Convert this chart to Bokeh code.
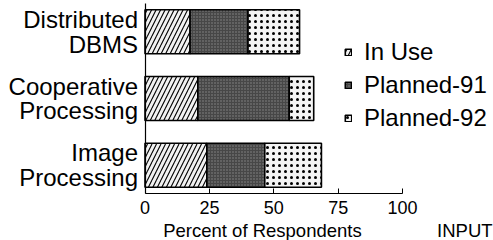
import numpy as np
from bokeh.plotting import figure
from bokeh.models import (Range1d, FixedTicker, Legend, LegendItem, Label,
                          ColumnDataSource)
from bokeh.embed import file_html
from bokeh.resources import INLINE

# ---- data ----
categories = ["Image Processing", "Cooperative Processing", "Distributed DBMS"]
category_labels = ["Image\nProcessing", "Cooperative\nProcessing", "Distributed\nDBMS"]
series_names = ["In Use", "Planned-91", "Planned-92"]
in_use = [24, 20.5, 17.5]
planned_91 = [22.5, 35.5, 22.5]
planned_92 = [22, 9.5, 20]
x_ticks = [0, 25, 50, 75, 100]
x_label = "Percent of Respondents"
footer = "INPUT"

FONT = "Liberation Sans"
Y0 = -0.424  # where the value axis sits

p = figure(width=493, height=240, output_backend="svg", toolbar_location=None,
           x_range=Range1d(-56.1, 135.3), y_range=Range1d(-1.129, 2.469),
           min_border_left=0, min_border_right=0, min_border_top=0,
           min_border_bottom=0)
p.outline_line_color = None
p.grid.visible = False
p.background_fill_color = "white"
p.border_fill_color = "white"

ypos = np.arange(len(categories))
vals = [np.array(in_use), np.array(planned_91), np.array(planned_92)]
styles = [
    dict(fill_color="#f2f2f2", hatch_pattern="/", hatch_color="black",
         hatch_scale=9, hatch_weight=1.1),
    dict(fill_color="#474747", hatch_pattern=".", hatch_color="#8a8a8a",
         hatch_scale=3, hatch_weight=1),
    dict(fill_color="#f4f4f4", hatch_pattern=".", hatch_color="black",
         hatch_scale=6, hatch_weight=1.0),
]
left = np.zeros(len(categories))
renderers = []
for v, st in zip(vals, styles):
    src = ColumnDataSource(dict(y=ypos, left=left.copy(), right=left + v))
    r = p.hbar(y="y", left="left", right="right", height=0.66, source=src,
               line_color="black", line_width=1.6, **st)
    renderers.append(r)
    left = left + v

# axes
xa = p.xaxis[0]
xa.fixed_location = Y0
xa.ticker = FixedTicker(ticks=x_ticks)
xa.bounds = (0, 100)
xa.major_tick_in = 5
xa.major_tick_out = 0
xa.minor_tick_line_color = None
xa.axis_line_color = "black"
xa.axis_line_width = 1.2
xa.major_tick_line_color = "black"
xa.major_label_text_font = FONT
xa.major_label_text_font_size = "18px"
xa.major_label_text_color = "black"
xa.major_label_standoff = 8

ya = p.yaxis[0]
ya.fixed_location = 0
ya.ticker = FixedTicker(ticks=list(ypos))
ya.bounds = (Y0, 2.424)
ya.major_label_overrides = {int(i): lab for i, lab in zip(ypos, category_labels)}
ya.major_tick_in = 0
ya.major_tick_out = 0
ya.minor_tick_line_color = None
ya.axis_line_color = "black"
ya.axis_line_width = 1.2
ya.major_label_text_font = FONT
ya.major_label_text_font_size = "24px"
ya.major_label_text_color = "black"
ya.major_label_text_line_height = 0.92
ya.major_label_standoff = 7

legend = Legend(items=[LegendItem(label=n, renderers=[r]) for n, r in zip(series_names, renderers)],
                location=(344, 108), orientation="vertical",
                glyph_width=8, glyph_height=8, label_standoff=12, spacing=5,
                padding=0, margin=0, border_line_color=None,
                background_fill_alpha=0,
                label_text_font=FONT, label_text_font_size="24px",
                label_text_color="black")
p.add_layout(legend)

p.add_layout(Label(x=45.6, y=-0.98, text=x_label, text_align="center",
                   text_baseline="middle", text_font=FONT,
                   text_font_size="18.5px", text_color="black"))
p.add_layout(Label(x=113.4, y=-0.98, text=footer, text_align="left",
                   text_baseline="middle", text_font=FONT,
                   text_font_size="18.5px", text_color="black"))

open("out.html", "w").write(file_html(p, INLINE))
